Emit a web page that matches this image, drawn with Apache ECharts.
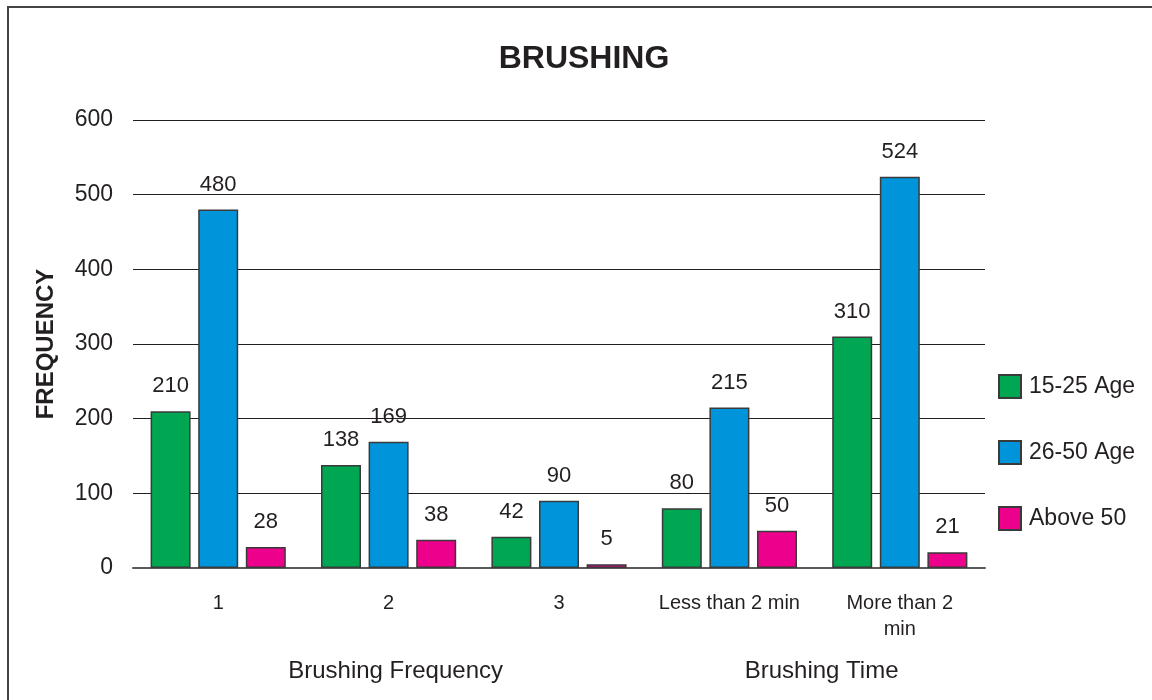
<!DOCTYPE html>
<html>
<head>
<meta charset="utf-8">
<style>
  html, body { margin: 0; padding: 0; background: #ffffff; }
  #chart { width: 1152px; height: 700px; }
</style>
<script src="https://cdn.jsdelivr.net/npm/echarts@6/dist/echarts.min.js"></script>
</head>
<body>
<div id="chart"></div>
<script>
// Category labels along the x axis
const categories = ['1', '2', '3', 'Less than 2 min', 'More than 2\nmin'];
// Grouping labels drawn below the categories: [text, first category index, last category index]
const groups = [['Brushing Frequency', 0, 2], ['Brushing Time', 3, 4]];

// Frequency counts per age group
const age15to25 = [210, 138, 42, 80, 310];
const age26to50 = [480, 169, 90, 215, 524];
const above50 = [28, 38, 5, 50, 21];

const seriesNames = ['15-25 Age', '26-50 Age', 'Above 50'];
const seriesColors = ['#00a651', '#0095da', '#ec008c'];
const seriesData = [age15to25, age26to50, above50];

const FONT = '"Liberation Sans", Arial, sans-serif';
const INK = '#231f20';

const chart = echarts.init(document.getElementById('chart'));

const option = {
  animation: false,
  backgroundColor: '#ffffff',
  textStyle: { fontFamily: FONT, color: INK },
  legend: {
    orient: 'vertical',
    left: 998,
    top: 374,
    padding: 0,
    icon: 'rect',
    itemWidth: 22,
    itemHeight: 23,
    itemGap: 41,
    textStyle: { fontFamily: FONT, fontSize: 23, color: INK, padding: [0, 0, 0, 3] },
    data: seriesNames
  },
  grid: { left: 133, right: 167, top: 120, bottom: 132 },
  xAxis: {
    type: 'category',
    data: categories,
    axisLine: { lineStyle: { color: '#5a5a5a', width: 2 } },
    axisTick: { show: false },
    axisLabel: { fontFamily: FONT, fontSize: 20, color: INK, margin: 22, lineHeight: 26, interval: 0 }
  },
  yAxis: {
    type: 'value',
    min: 0,
    max: 600,
    interval: 100,
    name: 'FREQUENCY',
    nameLocation: 'middle',
    nameGap: 75,
    nameTextStyle: { fontFamily: FONT, fontSize: 24, fontWeight: 'bold', color: INK },
    axisLine: { show: false },
    axisTick: { show: false },
    axisLabel: { fontFamily: FONT, fontSize: 23, color: INK, margin: 20, padding: [6, 0, 0, 0] },
    splitLine: { lineStyle: { color: '#231f20', width: 1 } }
  },
  series: seriesNames.map((name, i) => ({
    name: name,
    type: 'bar',
    data: seriesData[i],
    barWidth: 40,
    barGap: '19%',
    itemStyle: { color: seriesColors[i], borderColor: '#3a3a3a', borderWidth: 1.5 },
    label: {
      show: true,
      position: 'top',
      distance: 14,
      fontFamily: FONT,
      fontSize: 22,
      color: INK
    }
  }))
};

chart.setOption(option);

// Outer frame, title and grouping labels beneath the category axis
const groupTexts = groups.map(([text, a, b]) => {
  const xa = chart.convertToPixel({ xAxisIndex: 0 }, a);
  const xb = chart.convertToPixel({ xAxisIndex: 0 }, b);
  return {
    type: 'text',
    x: (xa + xb) / 2 + 7,
    y: 671,
    style: {
      text: text,
      fontFamily: FONT,
      fontSize: 24,
      fill: INK,
      align: 'center',
      verticalAlign: 'middle'
    }
  };
});

chart.setOption({
  graphic: [
    {
      type: 'rect',
      shape: { x: 8, y: 7, width: 1200, height: 760 },
      style: { fill: null, stroke: '#444444', lineWidth: 2 },
      silent: true
    },
    {
      type: 'text',
      x: 584,
      y: 59,
      style: {
        text: 'BRUSHING',
        fontFamily: FONT,
        fontSize: 32,
        fontWeight: 'bold',
        fill: INK,
        align: 'center',
        verticalAlign: 'middle'
      }
    }
  ].concat(groupTexts)
});
</script>
</body>
</html>
